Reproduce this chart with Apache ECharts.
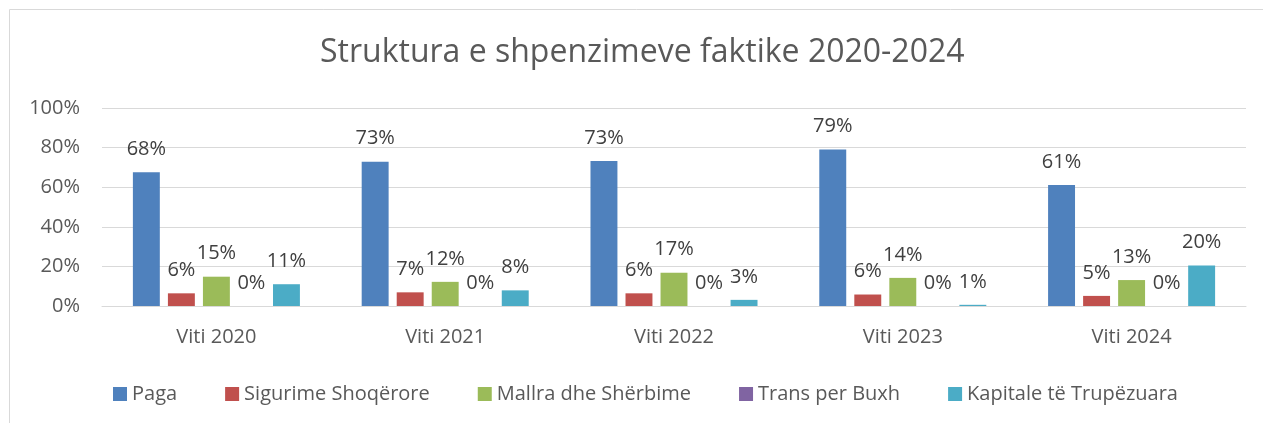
<!DOCTYPE html>
<html>
<head>
<meta charset="utf-8">
<script src="https://cdn.jsdelivr.net/npm/echarts@6/dist/echarts.min.js"></script>
<style>
  html, body { margin: 0; padding: 0; background: #fff; }
  #chart { width: 1263px; height: 423px; }
</style>
</head>
<body>
<div id="chart"></div>
<script>
const categories = ['Viti 2020', 'Viti 2021', 'Viti 2022', 'Viti 2023', 'Viti 2024']
const paga = [67.6, 72.9, 73.2, 79.0, 61.1]
const sigurime = [6.4, 6.9, 6.4, 5.8, 5.1]
const mallra = [14.8, 12.2, 16.8, 14.2, 13.1]
const transfer = [0, 0, 0, 0, 0]
const kapitale = [11.0, 7.9, 3.1, 0.6, 20.4]
const yTicks = [0, 20, 40, 60, 80, 100]

const font = 'Open Sans'
const chart = echarts.init(document.getElementById('chart'))

function makeSeries(name, data, color) {
  return {
    name,
    type: 'bar',
    data,
    barGap: '30%',
    barCategoryGap: '27%',
    itemStyle: { color },
    label: {
      show: true,
      position: 'top',
      distance: 13,
      color: '#404040',
      fontFamily: font,
      fontSize: 20,
      formatter: (p) => Math.round(p.value) + '%',
    },
  }
}

chart.setOption({
  animation: false,
  textStyle: { fontFamily: font },
  title: {
    text: 'Struktura e shpenzimeve faktike 2020-2024',
    left: 315,
    top: 32,
    textStyle: { color: '#595959', fontFamily: font, fontSize: 32, fontWeight: 'normal' },
  },
  graphic: [
    {
      type: 'rect',
      shape: { x: 9.5, y: 9.5, width: 1270, height: 430 },
      style: { fill: 'none', stroke: '#d9d9d9', lineWidth: 1 },
    },
  ],
  legend: {
    top: 379,
    left: 108,
    itemWidth: 14,
    itemHeight: 14,
    itemGap: 48,
    icon: 'rect',
    textStyle: { color: '#595959', fontFamily: font, fontSize: 20 },
  },
  grid: { left: 102, right: 17, top: 108, bottom: 117 },
  xAxis: {
    type: 'category',
    data: categories,
    axisLine: { lineStyle: { color: '#d9d9d9', width: 1 } },
    axisTick: { show: false },
    axisLabel: { color: '#595959', fontFamily: font, fontSize: 20, margin: 21 },
  },
  yAxis: {
    type: 'value',
    min: yTicks[0],
    max: yTicks[yTicks.length - 1],
    interval: 20,
    axisLine: { show: false },
    axisTick: { show: false },
    splitLine: { lineStyle: { color: '#d9d9d9', width: 1 } },
    axisLabel: { color: '#595959', fontFamily: font, fontSize: 20, margin: 22, formatter: '{value}%' },
  },
  series: [
    makeSeries('Paga', paga, '#4f81bd'),
    makeSeries('Sigurime Shoqërore', sigurime, '#c0504d'),
    makeSeries('Mallra dhe Shërbime', mallra, '#9bbb59'),
    makeSeries('Trans per Buxh', transfer, '#8064a2'),
    makeSeries('Kapitale të Trupëzuara', kapitale, '#4bacc6'),
  ],
})

window.addEventListener('resize', () => chart.resize())
</script>
</body>
</html>
